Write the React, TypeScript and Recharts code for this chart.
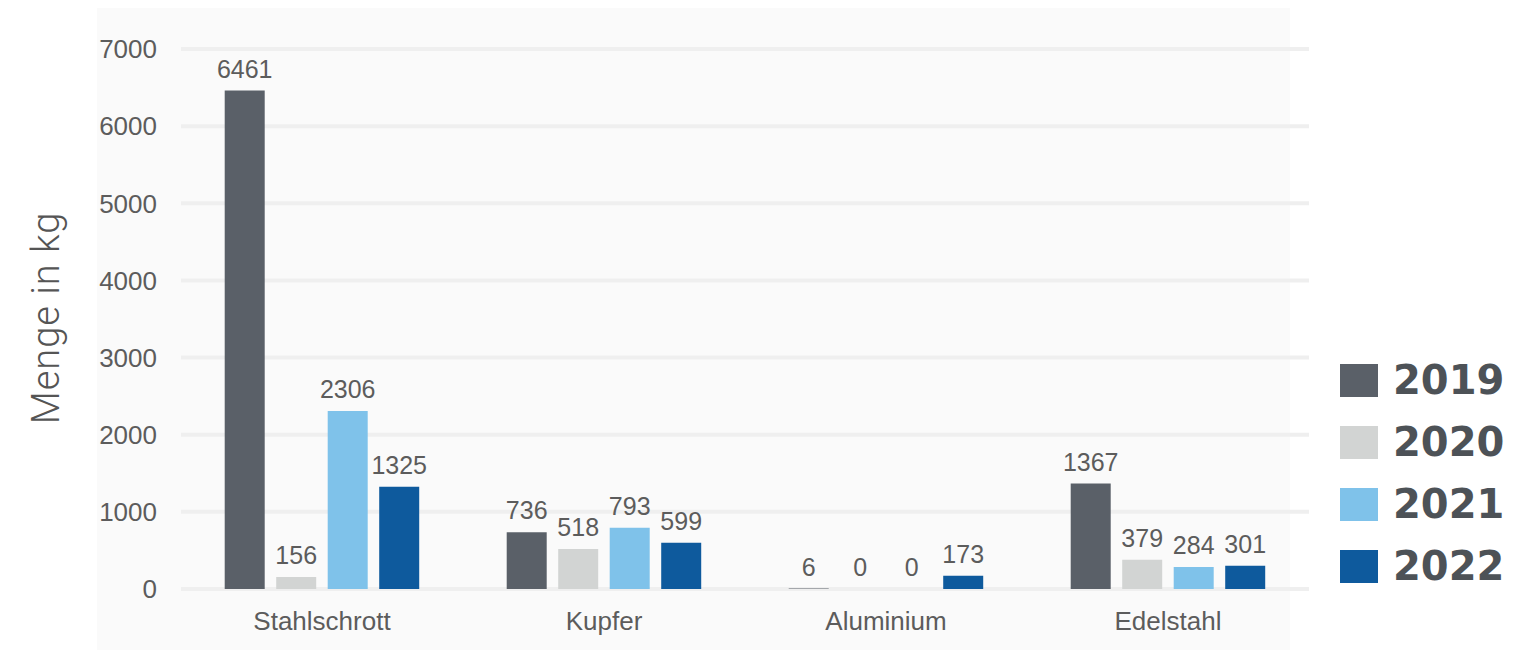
import React from 'react';
import { BarChart, Bar, XAxis, YAxis, CartesianGrid, LabelList } from 'recharts';

const categories = ['Stahlschrott', 'Kupfer', 'Aluminium', 'Edelstahl'];
const years = ['2019', '2020', '2021', '2022'];
const values2019 = [6461, 736, 6, 1367];
const values2020 = [156, 518, 0, 379];
const values2021 = [2306, 793, 0, 284];
const values2022 = [1325, 599, 173, 301];
const yTicks = [0, 1000, 2000, 3000, 4000, 5000, 6000, 7000];
const colors = ['#5a6068', '#d2d4d3', '#7fc2ea', '#0e5a9d'];

const series = [values2019, values2020, values2021, values2022];

const data = categories.map((c, i) => {
  const row: Record<string, string | number> = { category: c };
  years.forEach((y, k) => {
    row[y] = series[k][i];
  });
  return row;
});

const textColor = '#5c5c5c';
const font = '"Liberation Sans", Arial, sans-serif';

export default function App() {
  return (
    <div style={{ position: 'absolute', left: 0, top: 0, width: 1529, height: 650, background: '#ffffff', overflow: 'hidden' }}>
      <div style={{ position: 'absolute', left: 97, top: 8, width: 1193, height: 642, background: '#fafafa' }} />
      <div
        style={{
          position: 'absolute',
          left: 46,
          top: 318,
          transform: 'translate(-50%, -50%) rotate(-90deg)',
          whiteSpace: 'nowrap',
          fontFamily: 'Roboto, sans-serif',
          fontWeight: 300,
          fontSize: 38,
          letterSpacing: 1,
          color: '#555555',
        }}
      >
        Menge in kg
      </div>
      <div style={{ position: 'absolute', left: 0, top: 0 }}>
        <BarChart
          width={1529}
          height={650}
          data={data}
          margin={{ top: 49, right: 220, bottom: 0, left: 0 }}
          barCategoryGap="15.5%"
          barGap={11.5}
        >
          <CartesianGrid vertical={false} stroke="#efefef" strokeWidth={4} />
          <XAxis
            dataKey="category"
            height={61}
            axisLine={false}
            tickLine={false}
            tickMargin={17}
            tick={{ fill: textColor, fontSize: 26, fontFamily: font }}
          />
          <YAxis
            width={181}
            domain={[0, 7000]}
            ticks={yTicks}
            axisLine={false}
            tickLine={false}
            tickMargin={18}
            tick={{ fill: textColor, fontSize: 26, fontFamily: font }}
          />
          {years.map((y, k) => (
            <Bar key={y} dataKey={y} name={y} fill={colors[k]} minPointSize={0.01} isAnimationActive={false}>
              <LabelList
                dataKey={y}
                position="top"
                offset={13}
                fill={textColor}
                fontSize={25}
                fontFamily={font}
              />
            </Bar>
          ))}
        </BarChart>
      </div>
      <div style={{ position: 'absolute', left: 1340, top: 349 }}>
        {years.map((y, k) => (
          <div key={y} style={{ display: 'flex', alignItems: 'center', height: 62 }}>
            <div style={{ width: 38, height: 33, background: colors[k] }} />
            <div
              style={{
                marginLeft: 15,
                fontFamily: '"DejaVu Sans", sans-serif',
                fontWeight: 700,
                fontSize: 40,
                color: '#4d5257',
                lineHeight: '62px',
              }}
            >
              {y}
            </div>
          </div>
        ))}
      </div>
    </div>
  );
}
